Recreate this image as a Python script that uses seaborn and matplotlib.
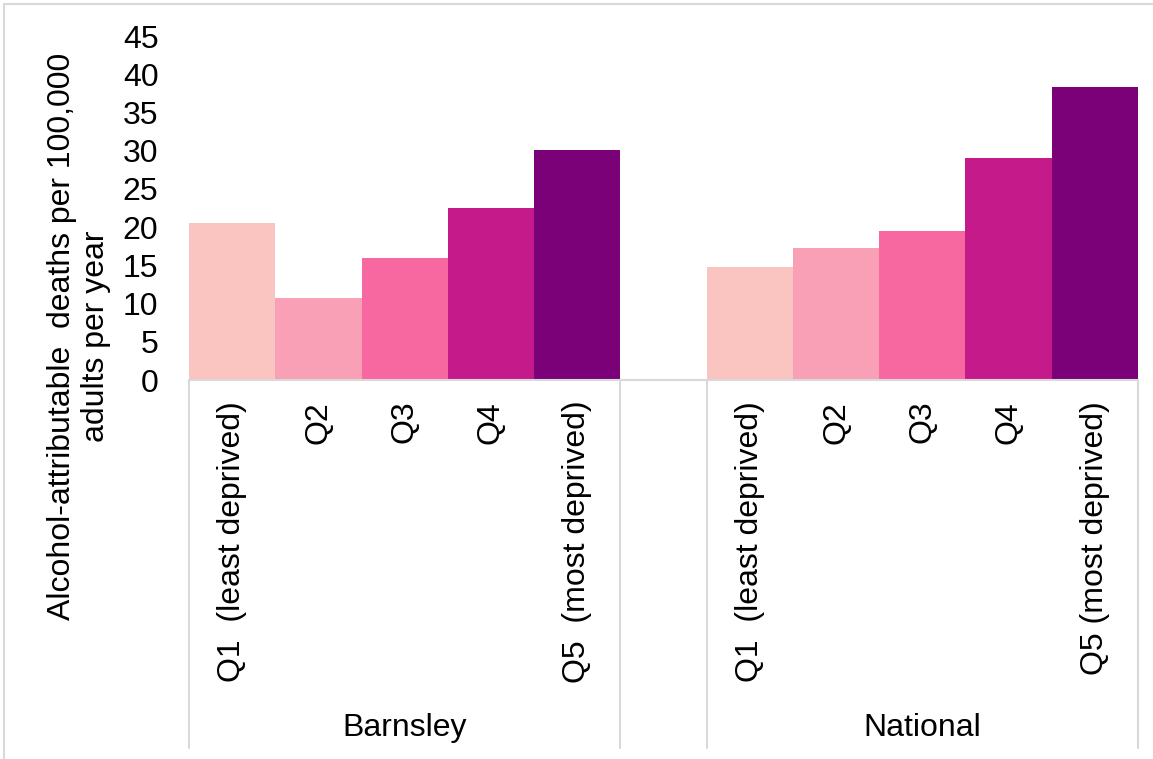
import matplotlib
matplotlib.use("Agg")
import matplotlib.pyplot as plt
import matplotlib.lines as mlines
import seaborn as sns
import pandas as pd
import numpy as np

# ---- data ----
groups = ["Barnsley", "National"]
quintiles = ["Q1", "Q2", "Q3", "Q4", "Q5"]
barnsley_values = [20.5, 10.7, 16.0, 22.5, 30.1]
national_values = [14.8, 17.3, 19.5, 29.1, 38.3]
barnsley_labels = ["Q1  (least deprived)", "Q2", "Q3", "Q4", "Q5  (most deprived)"]
national_labels = ["Q1  (least deprived)", "Q2", "Q3", "Q4", "Q5 (most deprived)"]
colors = ["#FAC4C0", "#F99FB6", "#F768A1", "#C51B8A", "#7A0177"]
y_label = "Alcohol-attributable  deaths per 100,000\nadults per year"

# ---- build table ----
rows = []
for q, v in zip(quintiles, barnsley_values):
    rows.append({"key": f"Barnsley {q}", "value": v, "quintile": q})
for q, v in zip(quintiles, national_values):
    rows.append({"key": f"National {q}", "value": v, "quintile": q})
df = pd.DataFrame(rows)
order = [f"Barnsley {q}" for q in quintiles] + ["gap"] + [f"National {q}" for q in quintiles]

sns.set_theme(style="white")
plt.rcParams["font.family"] = ["Liberation Sans", "DejaVu Sans"]
plt.rcParams["text.color"] = "black"
plt.rcParams["xtick.color"] = "black"
plt.rcParams["ytick.color"] = "black"
FS = 23

W, H = 1153, 759
fig = plt.figure(figsize=(W / 100, H / 100), dpi=100)
ax_left, ax_right, ax_top, ax_bot = 189, 1138, 36, 380
ax = fig.add_axes([ax_left / W, 1 - ax_bot / H, (ax_right - ax_left) / W, (ax_bot - ax_top) / H])

sns.barplot(data=df, x="key", y="value", hue="quintile", order=order,
            hue_order=quintiles, palette=colors, dodge=False, width=1.0,
            saturation=1, linewidth=0, legend=False, ax=ax)

ax.set_xlim(-0.5, 10.5)
ax.set_ylim(0, 45)
ax.set_yticks(np.arange(0, 46, 5))
ax.set_yticklabels([str(int(t)) for t in np.arange(0, 46, 5)], fontsize=FS)
ax.set_xticks(range(len(order)))
ax.set_xticklabels(barnsley_labels + [""] + national_labels, rotation=90,
                   fontsize=FS, va="top", ha="center")
ax.tick_params(axis="x", length=0, pad=15)
ax.tick_params(axis="y", length=0, pad=22)
ax.set_xlabel("")
ax.set_ylabel("")
for s in ["left", "right", "top"]:
    ax.spines[s].set_visible(False)
ax.spines["bottom"].set_color("#D9D9D9")
ax.spines["bottom"].set_linewidth(1.5)
ax.grid(False)

# separators between category groups
sep_bottom = -(748 - ax_bot) / (ax_bot - ax_top)
trans = matplotlib.transforms.blended_transform_factory(ax.transData, ax.transAxes)
for xs in [-0.5, 4.5, 5.5, 10.5]:
    ax.add_line(mlines.Line2D([xs, xs], [0, sep_bottom], transform=trans,
                              color="#D9D9D9", lw=1.5, clip_on=False))

# group labels
grp_y = -(728 - ax_bot) / (ax_bot - ax_top)
ax.text(2, grp_y, groups[0], transform=trans, ha="center", va="center", fontsize=FS)
ax.text(8, grp_y, groups[1], transform=trans, ha="center", va="center", fontsize=FS)

# y label
fig.text(79 / W, 1 - 336 / H, y_label, rotation=90, ha="center", va="center",
         fontsize=FS, multialignment="center", linespacing=1.15)

# figure border (top and left)
fig.add_artist(mlines.Line2D([4 / W, 1], [1 - 4 / H, 1 - 4 / H], transform=fig.transFigure,
                             color="#D9D9D9", lw=1.5))
fig.add_artist(mlines.Line2D([4 / W, 4 / W], [0, 1 - 4 / H], transform=fig.transFigure,
                             color="#D9D9D9", lw=1.5))

fig.savefig("out.png", dpi=100)
